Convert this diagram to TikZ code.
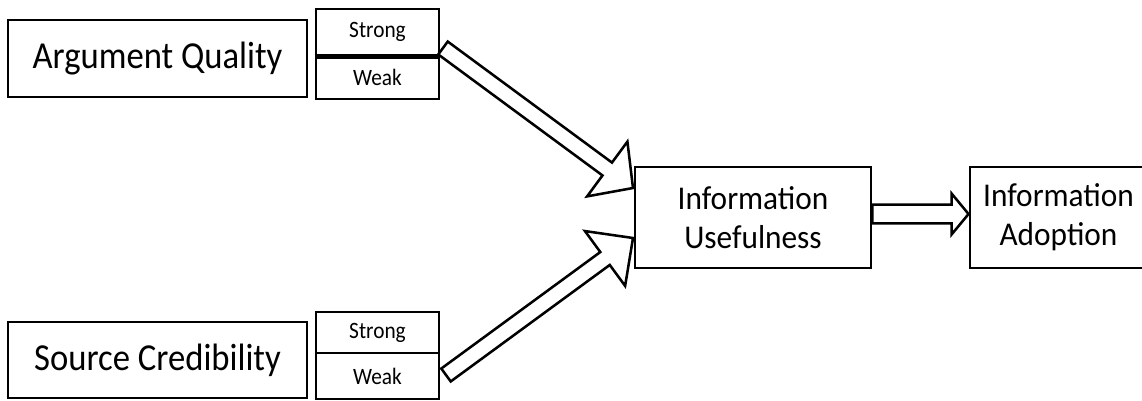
\documentclass[tikz,border=0pt]{standalone}
\usepackage{fontspec}
\setmainfont{Carlito}
\usetikzlibrary{calc}
\tikzset{
  box/.style={draw, line width=2.2pt, rectangle, inner sep=0pt, align=center},
  bigtxt/.style={font=\fontsize{26}{30}\selectfont},
  midtxt/.style={font=\fontsize{23.5}{29.5}\selectfont},
  smalltxt/.style={font=\fontsize{16}{18}\selectfont},
  blockarrow/.style={draw, line width=1.9pt, fill=white, line join=miter},
}
\newcommand\tallA[1]{\scalebox{1}[1.1]{#1}}
\newcommand\tallB[1]{\scalebox{1}[1.06]{#1}}
% #1 tail, #2 tip, #3 shaft half width, #4 head half width, #5 head length
\newcommand\blockarr[5]{%
  \coordinate (ba-h) at ($(#2)!#5!(#1)$);
  \path[blockarrow] ($(#1)!#3!90:(#2)$) -- ($(ba-h)!#3!-90:(#1)$) -- ($(ba-h)!#4!-90:(#1)$)
     -- (#2) -- ($(ba-h)!#4!90:(#1)$) -- ($(ba-h)!#3!90:(#1)$) -- ($(#1)!#3!-90:(#2)$) -- cycle;
}
\begin{document}
\begin{tikzpicture}[x=0.75pt,y=-0.75pt]
\useasboundingbox (0,0) rectangle (1142,400);
% left boxes
\node[box,bigtxt,minimum width=299*0.75pt,minimum height=77*0.75pt] (aq) at (157.5,58.5) {\tallA{Argument Quality}};
\node[box,bigtxt,minimum width=299*0.75pt,minimum height=76*0.75pt] (sc) at (157.5,360) {\tallA{Source Credibility}};
% strong / weak boxes
\node[box,smalltxt,minimum width=123*0.75pt,minimum height=46*0.75pt] (s1) at (377.5,32) {\tallA{Strong}};
\node[box,smalltxt,minimum width=123*0.75pt,minimum height=44*0.75pt] (w1) at (377.5,77) {\tallA{Weak}};
\draw[line width=3.6pt] (s1.south west) -- (s1.south east);
\node[box,smalltxt,minimum width=123*0.75pt,minimum height=41*0.75pt] (s2) at (377.5,332.5) {\tallA{Strong}};
\node[box,smalltxt,minimum width=123*0.75pt,minimum height=46*0.75pt] (w2) at (377.5,376) {\tallA{Weak}};
% right boxes
\node[box,midtxt,minimum width=236*0.75pt,minimum height=101*0.75pt] (iu) at (753,217.5) {\tallB{Information}\\\tallB{Usefulness}};
\node[box,midtxt,minimum width=177*0.75pt,minimum height=101*0.75pt] (ia) at (1058.5,217.5) {\tallB{Information}\\\tallB{Adoption}};
% arrow anchor coordinates
\coordinate (t1) at (443,48);
\coordinate (p1) at (633,188);
\coordinate (t2) at (446,375);
\coordinate (p2) at (633,238);
\coordinate (t3) at (iu.east |- 0,214);
\coordinate (p3) at (ia.west |- 0,214);
\blockarr{t1}{p1}{6pt}{25.5pt}{24pt}
\blockarr{t2}{p2}{6pt}{25.5pt}{26pt}
\blockarr{t3}{p3}{7.1pt}{15.4pt}{12.75pt}
\end{tikzpicture}
\end{document}
